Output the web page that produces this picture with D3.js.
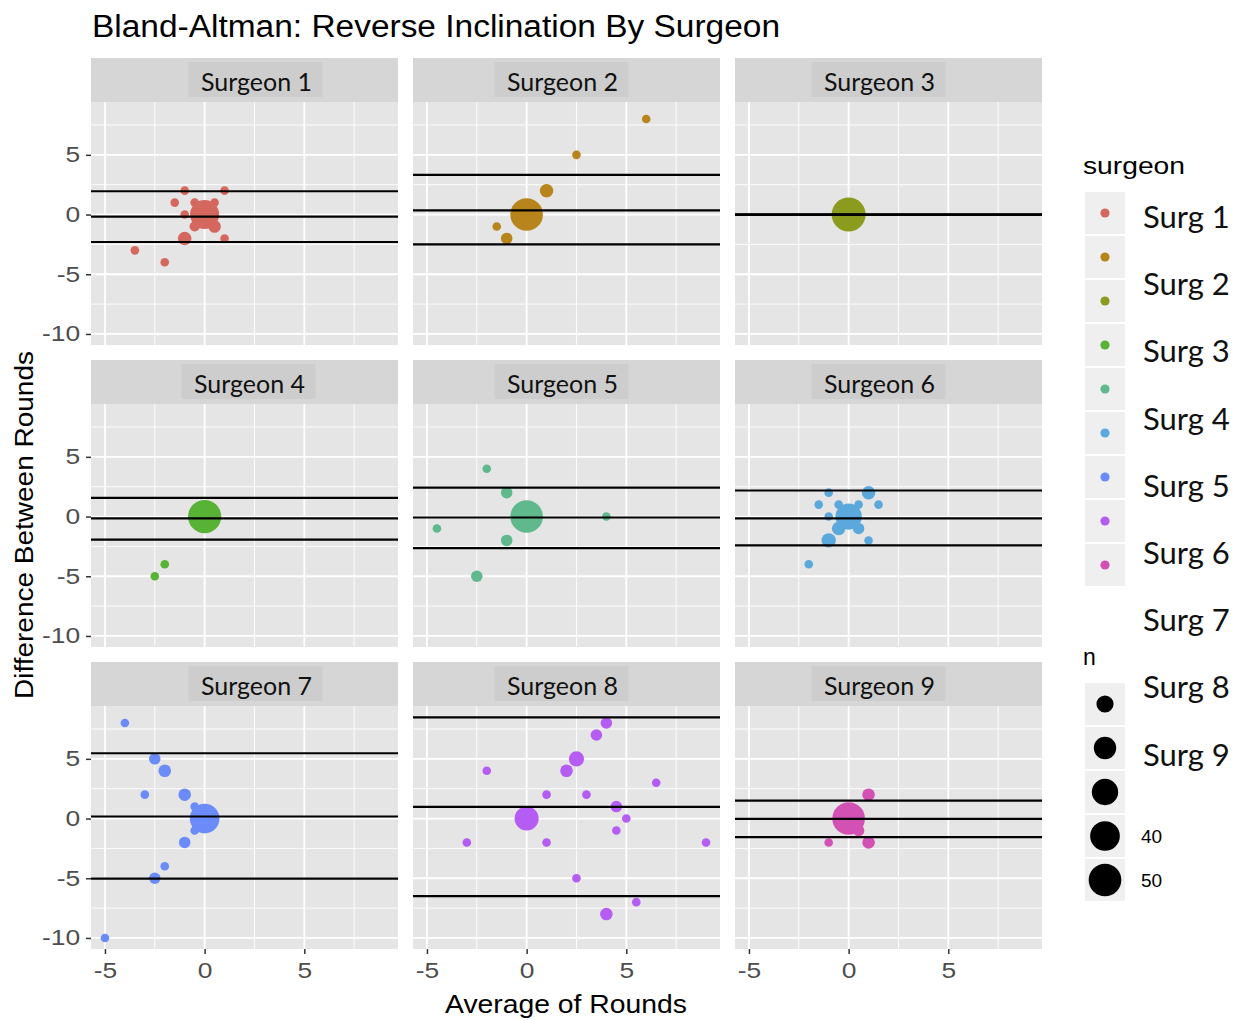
<!DOCTYPE html>
<html>
<head>
<meta charset="utf-8">
<script src="https://cdn.jsdelivr.net/npm/d3@7"></script>
<style>
  body { margin: 0; background: #fff; }
  text { font-family: "Liberation Sans", Arial, sans-serif; }
  .overlay { font-family: Lato, "Open Sans", sans-serif; }
</style>
</head>
<body>
<svg id="chart"></svg>
<script>
// panel names and legend labels
const surgeons = ["Surgeon 1", "Surgeon 2", "Surgeon 3", "Surgeon 4", "Surgeon 5",
                  "Surgeon 6", "Surgeon 7", "Surgeon 8", "Surgeon 9"];
const legendLabels = ["Surg 1", "Surg 2", "Surg 3", "Surg 4", "Surg 5",
                      "Surg 6", "Surg 7", "Surg 8", "Surg 9"];
const colors = ["#d5685e", "#b7851c", "#8b9b1d", "#58b236", "#5fb98d",
                "#5ba9dc", "#6b8cf8", "#b55cf2", "#d451b4"];

// points: [average, difference, n]
const surg1 = [[-1, 2, 1], [1, 2, 1], [-1.5, 1, 1], [-0.5, 1, 1], [0.5, 1, 1], [-1, 0, 1],
               [0, 0, 38], [-0.5, -1, 2], [0.5, -1, 4], [-1, -2, 5], [1, -2, 1],
               [-3.5, -3, 1], [-2, -4, 1]];
const surg2 = [[6, 8, 1], [2.5, 5, 1], [1, 2, 5], [0, 0, 50], [-1.5, -1, 1], [-1, -2, 3]];
const surg3 = [[0, 0, 55]];
const surg4 = [[0, 0, 52], [-2, -4, 1], [-2.5, -5, 1]];
const surg5 = [[-2, 4, 1], [-1, 2, 3], [0, 0, 50], [4, 0, 1], [-4.5, -1, 1], [-1, -2, 3], [-2.5, -5, 3]];
const surg6 = [[-1, 2, 1], [1, 2, 5], [-1.5, 1, 1], [-0.5, 1, 1], [0.5, 1, 1], [1.5, 1, 1],
               [-1, 0, 1], [0, 0, 30], [-0.5, -1, 5], [0.5, -1, 3], [-1, -2, 6], [1, -2, 1], [-2, -4, 1]];
const surg7 = [[-4, 8, 1], [-2.5, 5, 3], [-2, 4, 4], [-3, 2, 1], [-1, 2, 4], [-0.5, 1, 1],
               [0, 0, 40], [-0.5, -1, 1], [-1, -2, 3], [-2, -4, 1], [-2.5, -5, 3], [-5, -10, 1]];
const surg8 = [[4, 8, 3], [3.5, 7, 3], [2.5, 5, 7], [2, 4, 4], [-2, 4, 1], [6.5, 3, 1],
               [1, 2, 1], [3, 2, 1], [4.5, 1, 3], [0, 0, 24], [5, 0, 1], [4.5, -1, 1],
               [-3, -2, 1], [1, -2, 1], [9, -2, 1], [2.5, -5, 1], [5.5, -7, 1], [4, -8, 4]];
const surg9 = [[1, 2, 4], [0, 0, 50], [0.5, -1, 3], [-1, -2, 1], [1, -2, 4]];
const allPoints = [surg1, surg2, surg3, surg4, surg5, surg6, surg7, surg8, surg9];

// Bland-Altman lines per surgeon
const upperLoA = [1.95, 3.33, 0, 1.57, 2.42, 2.18, 5.47, 8.47, 1.5];
const meanDiff = [-0.18, 0.35, 0, -0.16, -0.08, -0.16, 0.17, 0.98, -0.02];
const lowerLoA = [-2.3, -2.5, 0, -1.93, -2.65, -2.42, -5.03, -6.5, -1.55];

// ticks
const xTicks = [-5, 0, 5];
const xMinor = [-2.5, 2.5, 7.5];
const yTicks = [5, 0, -5, -10];
const yMinor = [7.5, 2.5, -2.5, -7.5];
const sizeBreaks = [10, 20, 30, 40, 50];
const sizeLabels = ["", "", "", "40", "50"];

// layout
const chartW = 1258, chartH = 1020;
const panelW = 307, panelH = 243, stripH = 44, gapX = 15, gapY = 15;
const panelLeft = 91, panelTop = 58;
const stripShift = [[12, -4, -9], [5, -4, -9], [12, -4, -9]];

const svg = d3.select("#chart").attr("width", chartW).attr("height", chartH);

const x = d3.scaleLinear().domain([-5.7, 9.7]).range([0, panelW]);
const y = d3.scaleLinear().domain([-10.925, 9.425]).range([panelH, 0]);
const r = d3.scaleSqrt().domain([1, 55]).range([4.3, 17]);

svg.append("defs").append("clipPath").attr("id", "clip")
  .append("rect").attr("width", panelW).attr("height", panelH);

surgeons.forEach((name, i) => {
  const col = i % 3, row = Math.floor(i / 3);
  const gx = panelLeft + col * (panelW + gapX);
  const gy = panelTop + row * (stripH + panelH + gapY);

  // strip
  svg.append("rect").attr("x", gx).attr("y", gy).attr("width", panelW).attr("height", stripH)
    .attr("fill", "#d6d6d6");
  const cx = gx + panelW / 2 + stripShift[row][col];
  svg.append("rect").attr("x", cx - 68).attr("y", gy + 4).attr("width", 134).attr("height", 35)
    .attr("fill", "#cdcdcd");
  svg.append("text").attr("class", "overlay")
    .attr("x", cx).attr("y", gy + 23)
    .attr("text-anchor", "middle").attr("dominant-baseline", "central")
    .style("font-size", "25px").attr("fill", "#111")
    .text(name);

  const g = svg.append("g").attr("transform", `translate(${gx},${gy + stripH})`);
  g.append("rect").attr("width", panelW).attr("height", panelH).attr("fill", "#e5e5e5");

  // grid
  g.selectAll(".xminor").data(xMinor).enter().append("line")
    .attr("x1", d => x(d)).attr("x2", d => x(d)).attr("y1", 0).attr("y2", panelH)
    .attr("stroke", "#fff").attr("stroke-width", 0.9);
  g.selectAll(".yminor").data(yMinor).enter().append("line")
    .attr("y1", d => y(d)).attr("y2", d => y(d)).attr("x1", 0).attr("x2", panelW)
    .attr("stroke", "#fff").attr("stroke-width", 0.9);
  g.selectAll(".xmajor").data(xTicks).enter().append("line")
    .attr("x1", d => x(d)).attr("x2", d => x(d)).attr("y1", 0).attr("y2", panelH)
    .attr("stroke", "#fff").attr("stroke-width", 1.8);
  g.selectAll(".ymajor").data(yTicks).enter().append("line")
    .attr("y1", d => y(d)).attr("y2", d => y(d)).attr("x1", 0).attr("x2", panelW)
    .attr("stroke", "#fff").attr("stroke-width", 1.8);

  // points
  g.append("g").attr("clip-path", "url(#clip)")
    .selectAll("circle").data(allPoints[i]).enter().append("circle")
    .attr("cx", d => x(d[0])).attr("cy", d => y(d[1])).attr("r", d => r(d[2]))
    .attr("fill", colors[i]);

  // mean and limits of agreement
  g.selectAll(".hline").data([upperLoA[i], meanDiff[i], lowerLoA[i]]).enter().append("line")
    .attr("x1", 0).attr("x2", panelW).attr("y1", d => y(d)).attr("y2", d => y(d))
    .attr("stroke", "#000").attr("stroke-width", 2.2);

  // axes
  if (col === 0) {
    const ax = g.append("g").call(d3.axisLeft(y).tickValues(yTicks).tickSize(5).tickPadding(4)
      .tickFormat(d => String(d)));
    ax.select(".domain").remove();
    ax.selectAll("line").attr("stroke", "#333").attr("stroke-width", 1.5);
    ax.selectAll("text").style("font-size", "22px").attr("fill", "#4d4d4d")
      .attr("transform", "scale(1.2,1)");
  }
  if (row === 2) {
    const ax = g.append("g").attr("transform", `translate(0,${panelH})`)
      .call(d3.axisBottom(x).tickValues(xTicks).tickSize(5).tickPadding(8)
        .tickFormat(d => String(d)));
    ax.select(".domain").remove();
    ax.selectAll("line").attr("stroke", "#333").attr("stroke-width", 1.5);
    ax.selectAll("text").style("font-size", "22px").attr("fill", "#4d4d4d")
      .attr("transform", "scale(1.2,1)");
  }
});

// titles
svg.append("text").attr("x", 92).attr("y", 37).style("font-size", "31px")
  .attr("textLength", 688).attr("lengthAdjust", "spacingAndGlyphs")
  .text("Bland-Altman: Reverse Inclination By Surgeon");
svg.append("text").attr("x", 566).attr("y", 1013).attr("text-anchor", "middle")
  .style("font-size", "25px").attr("textLength", 242).attr("lengthAdjust", "spacingAndGlyphs")
  .text("Average of Rounds");
svg.append("text").attr("transform", "translate(33,525) rotate(-90)").attr("text-anchor", "middle")
  .style("font-size", "25px").attr("textLength", 348).attr("lengthAdjust", "spacingAndGlyphs")
  .text("Difference Between Rounds");

// colour legend
svg.append("text").attr("x", 1083).attr("y", 174).style("font-size", "23px")
  .attr("textLength", 102).attr("lengthAdjust", "spacingAndGlyphs").text("surgeon");
const keys = svg.append("g").attr("transform", "translate(1085,192)");
keys.selectAll("rect").data(colors).enter().append("rect")
  .attr("x", 0).attr("y", (d, i) => i * 44).attr("width", 40).attr("height", 42)
  .attr("fill", "#efefef");
keys.selectAll("circle").data(colors).enter().append("circle")
  .attr("cx", 20).attr("cy", (d, i) => i * 44 + 21).attr("r", 4.6).attr("fill", d => d);
svg.append("g").selectAll("text").data(legendLabels).enter().append("text")
  .attr("class", "overlay")
  .attr("x", 1143).attr("y", (d, i) => 216 + i * 67.2)
  .attr("dominant-baseline", "central").style("font-size", "31px").attr("fill", "#111")
  .text(d => d);

// size legend
svg.append("text").attr("x", 1083).attr("y", 665).style("font-size", "23px").text("n");
const skeys = svg.append("g").attr("transform", "translate(1085,683)");
skeys.selectAll("rect").data(sizeBreaks).enter().append("rect")
  .attr("x", 0).attr("y", (d, i) => i * 44).attr("width", 40).attr("height", 42)
  .attr("fill", "#efefef");
skeys.selectAll("circle").data(sizeBreaks).enter().append("circle")
  .attr("cx", 20).attr("cy", (d, i) => i * 44 + 21).attr("r", d => r(d)).attr("fill", "#000");
skeys.selectAll("text").data(sizeLabels).enter().append("text")
  .attr("x", 56).attr("y", (d, i) => i * 44 + 21).attr("dominant-baseline", "central")
  .style("font-size", "19px")
  .text(d => d);
</script>
</body>
</html>
